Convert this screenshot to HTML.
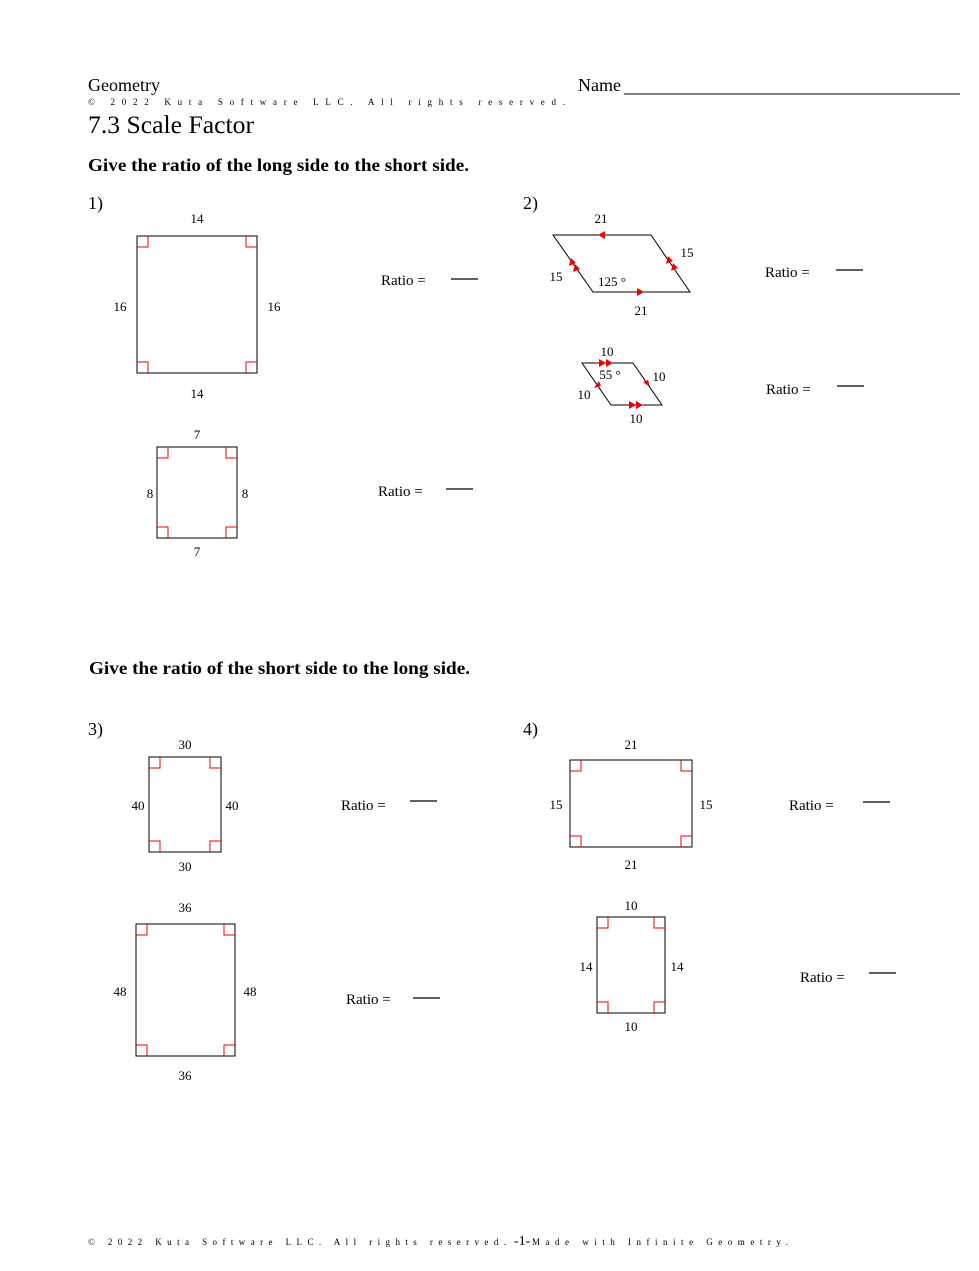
<!DOCTYPE html>
<html><head><style>
body{margin:0;background:#fff}
svg text{font-family:"Liberation Serif",serif;fill:#000}
</style></head><body>
<svg width="979" height="1266" xmlns="http://www.w3.org/2000/svg">
<text x="88" y="91" font-size="18">Geometry</text>
<text x="88" y="105" font-size="9" textLength="477" lengthAdjust="spacing">© 2022 Kuta Software LLC.  All rights reserved.</text>
<text x="88" y="133" font-size="25" textLength="166" lengthAdjust="spacingAndGlyphs">7.3 Scale Factor</text>
<text x="578" y="91" font-size="18">Name</text>
<line x1="624" y1="94" x2="960" y2="94" stroke="#000" stroke-width="1"/>
<text x="88" y="171" font-size="18" font-weight="bold" textLength="381" lengthAdjust="spacingAndGlyphs">Give the ratio of the long side to the short side.</text>
<text x="89" y="674" font-size="18" font-weight="bold" textLength="381" lengthAdjust="spacingAndGlyphs">Give the ratio of the short side to the long side.</text>
<g font-size="18"><text x="88" y="209">1)</text><text x="523" y="209">2)</text><text x="88" y="735">3)</text><text x="523" y="735">4)</text></g>

<g fill="none" stroke="#000" stroke-width="1">
<rect x="137" y="236" width="120" height="137"/>
<rect x="157" y="447" width="80" height="91"/>
<rect x="149" y="757" width="72" height="95"/>
<rect x="136" y="924" width="99" height="132"/>
<rect x="570" y="760" width="122" height="87"/>
<rect x="597" y="917" width="68" height="96"/>
<polygon points="553,235 651,235 690,292 593,292"/>
<polygon points="582,363 633,363 662,405 611,405"/>
</g>
<g fill="none" stroke="#e00" stroke-width="1">
<path d="M137,247h11v-11M246,236v11h11M137,362h11v11M246,373v-11h11"/>
<path d="M157,458h11v-11M226,447v11h11M157,527h11v11M226,538v-11h11"/>
<path d="M149,768h11v-11M210,757v11h11M149,841h11v11M210,852v-11h11"/>
<path d="M136,935h11v-11M224,924v11h11M136,1045h11v11M224,1056v-11h11"/>
<path d="M570,771h11v-11M681,760v11h11M570,836h11v11M681,847v-11h11"/>
<path d="M597,928h11v-11M654,917v11h11M597,1002h11v11M654,1013v-11h11"/>
</g>
<g fill="#e00">
<polygon points="598,235 605,231 605,239"/>
<polygon points="644,292 637,288 637,296"/>
<polygon points="571,258 569,266 576,263"/>
<polygon points="575,264 573,272 580,269"/>
<polygon points="668,256 666,264 673,261"/>
<polygon points="673,263 671,271 678,268"/>
<polygon points="606,363 599,359 599,367"/>
<polygon points="613,363 606,359 606,367"/>
<polygon points="636,405 629,401 629,409"/>
<polygon points="643,405 636,401 636,409"/>
<polygon points="594,388 599,381 601,386"/>
<polygon points="650,387 643,382 648,380"/>
</g>
<g font-size="13" text-anchor="middle">
<text x="197" y="223">14</text><text x="120" y="311">16</text><text x="274" y="311">16</text><text x="197" y="398">14</text>
<text x="197" y="439">7</text><text x="150" y="498">8</text><text x="245" y="498">8</text><text x="197" y="556">7</text>
<text x="601" y="223">21</text><text x="687" y="257">15</text><text x="556" y="281">15</text><text x="612" y="286">125 °</text><text x="641" y="315">21</text>
<text x="607" y="356">10</text><text x="610" y="379">55 °</text><text x="659" y="381">10</text><text x="584" y="399">10</text><text x="636" y="423">10</text>
<text x="185" y="749">30</text><text x="138" y="810">40</text><text x="232" y="810">40</text><text x="185" y="871">30</text>
<text x="185" y="912">36</text><text x="120" y="996">48</text><text x="250" y="996">48</text><text x="185" y="1080">36</text>
<text x="631" y="749">21</text><text x="556" y="809">15</text><text x="706" y="809">15</text><text x="631" y="869">21</text>
<text x="631" y="910">10</text><text x="586" y="971">14</text><text x="677" y="971">14</text><text x="631" y="1031">10</text>
</g>
<g font-size="15">
<text x="381" y="285">Ratio =</text><text x="765" y="277">Ratio =</text><text x="766" y="394">Ratio =</text>
<text x="378" y="496">Ratio =</text><text x="341" y="810">Ratio =</text><text x="789" y="810">Ratio =</text>
<text x="346" y="1004">Ratio =</text><text x="800" y="982">Ratio =</text>
</g>
<g stroke="#000" stroke-width="1.3">
<line x1="451" y1="279" x2="478" y2="279"/><line x1="836" y1="270" x2="863" y2="270"/><line x1="837" y1="386" x2="864" y2="386"/>
<line x1="446" y1="489" x2="473" y2="489"/><line x1="410" y1="801" x2="437" y2="801"/><line x1="863" y1="802" x2="890" y2="802"/>
<line x1="413" y1="998" x2="440" y2="998"/><line x1="869" y1="973" x2="896" y2="973"/>
</g>
<text x="88" y="1245" font-size="9" textLength="418" lengthAdjust="spacing">© 2022 Kuta Software LLC. All rights reserved.</text>
<text x="514" y="1245" font-size="14">-1-</text>
<text x="532" y="1245" font-size="9" textLength="256" lengthAdjust="spacing">Made with Infinite Geometry.</text>
</svg>
</body></html>
